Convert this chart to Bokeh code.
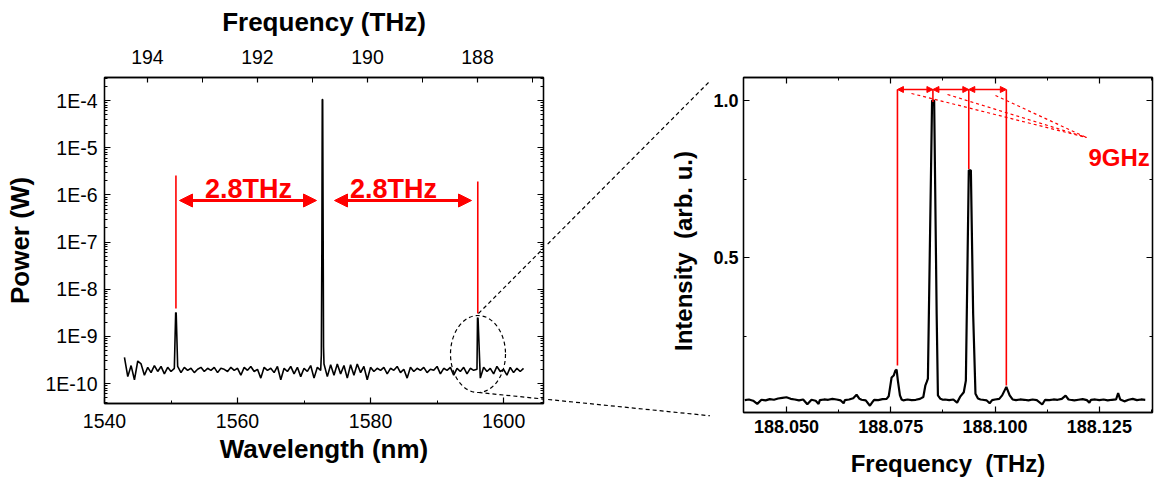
import math
import numpy as np
from bokeh.plotting import figure
from bokeh.models import (Range1d, LinearAxis, LogAxis, FixedTicker, CustomJSTickFormatter,
                          NumeralTickFormatter, Arrow, NormalHead, Label)
from bokeh.layouts import row
from bokeh.embed import file_html
from bokeh.resources import INLINE

FONT = "Liberation Sans"

# ---------------- left panel data: optical spectrum (power vs wavelength) ----------------
noise_start_nm = 1543.0
noise_step_nm = 0.5
noise_floor_1e10 = [
    3.6, 1.4, 2.4, 1.2, 3.0, 2.6, 1.5, 2.2, 1.7, 2.4, 1.8, 2.3, 1.6, 2.2, 1.8, 2.1,
    2.3, 1.7, 2.2, 1.9, 2.1, 1.7, 2.0, 2.2, 1.8, 2.1, 1.9, 2.2, 1.7, 2.1, 2.0, 1.8,
    2.2, 1.9, 2.1, 1.5, 2.2, 1.9, 2.3, 1.8, 2.0, 1.3, 2.2, 1.9, 2.1, 1.7, 2.3, 1.2,
    2.1, 1.8, 2.3, 1.6, 2.2, 1.4, 2.1, 1.8, 2.4, 1.3, 2.2, 1.9, 2.6, 1.4, 2.5, 1.5,
    2.6, 1.6, 2.4, 1.3, 2.5, 1.5, 2.6, 1.7, 2.3, 1.2, 2.2, 1.8, 2.1, 1.9, 2.2, 1.6,
    2.1, 1.9, 2.3, 1.7, 2.0, 1.3, 2.2, 1.8, 2.1, 1.9, 2.2, 1.7, 2.0, 1.9, 2.3, 1.6,
    2.1, 1.9, 2.2, 1.5, 2.1, 1.8, 2.2, 1.6, 2.1, 1.9, 2.0, 1.3, 2.2, 1.8, 2.1, 1.6,
    2.3, 1.8, 2.0, 1.5, 2.2, 1.7, 2.1, 1.8, 2.1,
]
peak_wl_nm = [1550.70, 1550.78,
              1572.60, 1572.68, 1572.74, 1572.80, 1572.86, 1572.93,
              1596.08, 1596.16]
peak_power_w = [3.2e-9, 3.1e-9,
                4.0e-10, 8.0e-8, 1.05e-4, 1.05e-4, 5.0e-7, 6.0e-10,
                2.5e-9, 2.4e-9]

# ---------------- right panel data: zoomed spectrum (intensity vs frequency) ----------------
zoom_freq_thz = [
    188.040, 188.041, 188.042, 188.043, 188.044, 188.045, 188.046, 188.047, 188.048, 188.049,
    188.050, 188.051, 188.052, 188.053, 188.054, 188.055, 188.056, 188.057, 188.0577, 188.058,
    188.059, 188.060, 188.061, 188.062, 188.063, 188.0637, 188.064, 188.065, 188.066, 188.0668,
    188.0675, 188.068, 188.069, 188.070, 188.0705, 188.071, 188.072, 188.073, 188.074, 188.0745,
    188.0752, 188.0757, 188.0761, 188.0764, 188.0767, 188.0772, 188.0776,
    188.078, 188.079, 188.080, 188.081, 188.082, 188.0828,
    188.0833, 188.0836, 188.0839, 188.0849, 188.0854, 188.0860, 188.0863, 188.0869,
    188.0875, 188.088, 188.089, 188.090, 188.0909, 188.0917,
    188.0925, 188.0930, 188.0937, 188.0942, 188.09475, 188.0953, 188.0959,
    188.0965, 188.097, 188.098, 188.0987, 188.0993, 188.100, 188.101,
    188.1017, 188.1027, 188.1035, 188.1042,
    188.105, 188.106, 188.107, 188.108, 188.109, 188.110, 188.1113, 188.112, 188.113, 188.114,
    188.115, 188.116, 188.1169, 188.1176, 188.118, 188.119, 188.120, 188.121, 188.122, 188.1226,
    188.123, 188.124, 188.125, 188.126, 188.127, 188.128, 188.129, 188.1295, 188.130, 188.131,
    188.132, 188.133, 188.134, 188.135, 188.136,
]
zoom_intensity = [
    0.048, 0.050, 0.046, 0.036, 0.049, 0.047, 0.051, 0.049, 0.053, 0.055,
    0.057, 0.052, 0.050, 0.047, 0.050, 0.035, 0.049, 0.046, 0.036, 0.048,
    0.050, 0.049, 0.052, 0.050, 0.047, 0.038, 0.048, 0.050, 0.054, 0.065,
    0.052, 0.049, 0.047, 0.030, 0.040, 0.049, 0.048, 0.051, 0.052, 0.060,
    0.120, 0.126, 0.142, 0.145, 0.110, 0.063, 0.050,
    0.047, 0.050, 0.048, 0.049, 0.052, 0.058,
    0.095, 0.105, 0.116, 1.000, 1.000, 0.320, 0.063, 0.052,
    0.049, 0.050, 0.048, 0.050, 0.040, 0.060,
    0.073, 0.110, 0.778, 0.778, 0.320, 0.068, 0.053,
    0.050, 0.049, 0.047, 0.038, 0.048, 0.050, 0.052,
    0.063, 0.090, 0.063, 0.050,
    0.048, 0.050, 0.049, 0.047, 0.050, 0.048, 0.034, 0.049, 0.048, 0.050,
    0.049, 0.052, 0.062, 0.050, 0.049, 0.047, 0.049, 0.051, 0.048, 0.040,
    0.049, 0.050, 0.048, 0.050, 0.047, 0.049, 0.050, 0.070, 0.050, 0.044,
    0.049, 0.052, 0.048, 0.050, 0.049,
]

# comb lines marked in the zoom (THz) and the 9 GHz marks
comb_freq_thz = [188.0766, 188.0851, 188.0937, 188.1027]
comb_mark_bottom = [0.158, 0.995, 0.782, 0.094]
side_wl_nm = [1550.74, 1596.12]

# ---------------- geometry (page pixels) ----------------
H = 480
L_FRAME = dict(x0=104, x1=543, y0=77, y1=403)
L_X = (1540.0, 1606.0)
L_LOGY = (-10.424, -3.512)
M_X = (546, 710)
M_Y = (77, 425)
R_FRAME = dict(x0=743, x1=1152, y0=77, y1=412)
R_X = (188.0397, 188.0397 + (R_FRAME["x1"] - R_FRAME["x0"]) / 4172.0)
R_Y = (0.0086, 0.0086 + (R_FRAME["y1"] - R_FRAME["y0"]) / 314.7)


def left_data(px, py):
    x = L_X[0] + (px - L_FRAME["x0"]) / (L_FRAME["x1"] - L_FRAME["x0"]) * (L_X[1] - L_X[0])
    ly = L_LOGY[0] + (L_FRAME["y1"] - py) / (L_FRAME["y1"] - L_FRAME["y0"]) * (L_LOGY[1] - L_LOGY[0])
    return x, 10 ** ly


def right_data(px, py):
    x = R_X[0] + (px - R_FRAME["x0"]) / (R_FRAME["x1"] - R_FRAME["x0"]) * (R_X[1] - R_X[0])
    y = R_Y[0] + (R_FRAME["y1"] - py) / (R_FRAME["y1"] - R_FRAME["y0"]) * (R_Y[1] - R_Y[0])
    return x, y


def style_axis(ax, tick_size, title_size, bold_ticks=False, show_labels=True):
    ax.axis_line_color = "black"
    ax.axis_line_width = 1.3
    ax.major_tick_line_color = "black"
    ax.minor_tick_line_color = "black"
    ax.major_tick_line_width = 1.2
    ax.minor_tick_line_width = 1.0
    ax.major_tick_in = 6
    ax.major_tick_out = 0
    ax.minor_tick_in = 3
    ax.minor_tick_out = 0
    ax.major_label_text_font = FONT
    ax.major_label_text_color = "black"
    ax.major_label_text_font_style = "bold" if bold_ticks else "normal"
    ax.major_label_text_font_size = tick_size
    if not show_labels:
        ax.major_label_text_font_size = "2px"
        ax.major_label_text_alpha = 0
        ax.major_label_standoff = 0
    ax.axis_label_text_font = FONT
    ax.axis_label_text_font_style = "bold"
    ax.axis_label_text_font_size = title_size
    ax.axis_label_text_color = "black"


def plain(fig):
    fig.xgrid.visible = False
    fig.ygrid.visible = False
    fig.background_fill_color = "white"
    fig.border_fill_color = "white"


# ======================= left figure =======================
p1 = figure(y_axis_type="log",
            x_range=Range1d(*L_X), y_range=Range1d(10 ** L_LOGY[0], 10 ** L_LOGY[1]),
            frame_width=L_FRAME["x1"] - L_FRAME["x0"], frame_height=L_FRAME["y1"] - L_FRAME["y0"],
            min_border_left=L_FRAME["x0"], min_border_right=M_X[0] - L_FRAME["x1"],
            min_border_top=L_FRAME["y0"], min_border_bottom=H - L_FRAME["y1"],
            output_backend="svg", toolbar_location=None)
plain(p1)
p1.outline_line_color = "black"
p1.outline_line_width = 1.3

xa = p1.xaxis[0]
xa.ticker = FixedTicker(ticks=[1540, 1560, 1580, 1600], minor_ticks=[1550, 1570, 1590])
xa.axis_label = "Wavelength (nm)"
style_axis(xa, "19.5px", "26px")
xa.major_label_standoff = 10
xa.axis_label_standoff = 3

decades = list(range(-10, -3))
log_major = [10.0 ** d for d in decades]
log_minor = [k * 10.0 ** d for d in range(-11, -3) for k in range(2, 10)]
ya = p1.yaxis[0]
ya.ticker = FixedTicker(ticks=log_major, minor_ticks=log_minor)
ya.formatter = CustomJSTickFormatter(code="return '1E' + Math.round(Math.log10(tick));")
ya.axis_label = "Power (W)"
style_axis(ya, "19.5px", "26px")
ya.major_label_standoff = 7
ya.axis_label_standoff = 7

p1.extra_x_ranges = {"freq": Range1d(194.78, 186.80)}
top_ax = LinearAxis(x_range_name="freq",
                    ticker=FixedTicker(ticks=[188, 190, 192, 194], minor_ticks=[187, 189, 191, 193]),
                    axis_label="Frequency (THz)")
style_axis(top_ax, "19.5px", "26px")
top_ax.major_tick_in = 5
top_ax.minor_tick_in = 5
top_ax.major_label_standoff = 14
top_ax.axis_label_standoff = 10
p1.add_layout(top_ax, "above")

right_ax = LogAxis(ticker=FixedTicker(ticks=log_major, minor_ticks=log_minor))
style_axis(right_ax, "19.5px", "26px", show_labels=False)
p1.add_layout(right_ax, "right")

wl = np.concatenate([noise_start_nm + noise_step_nm * np.arange(len(noise_floor_1e10)), peak_wl_nm])
pw = np.concatenate([np.array(noise_floor_1e10) * 1e-10, peak_power_w])
order = np.argsort(wl)
p1.line(wl[order], pw[order], line_color="black", line_width=1.6)

# red markers of the side lines
_, top_a = left_data(0, 175)
_, bot_a = left_data(0, 308)
_, top_b = left_data(0, 181)
_, bot_b = left_data(0, 313)
p1.segment(x0=side_wl_nm, x1=side_wl_nm, y0=[bot_a, bot_b], y1=[top_a, top_b],
           line_color="#ff0000", line_width=1.6)

# 2.8 THz double arrows
ax0, arrow_y = left_data(179, 200)
ax1, _ = left_data(316, 200)
bx0, _ = left_data(334, 200)
bx1, _ = left_data(471, 200)
for xs, xe in [(ax0, ax1), (bx0, bx1)]:
    p1.add_layout(Arrow(x_start=xs, y_start=arrow_y, x_end=xe, y_end=arrow_y,
                        line_color="#ff0000", line_width=3.2,
                        start=NormalHead(size=13, fill_color="#ff0000", line_color="#ff0000"),
                        end=NormalHead(size=13, fill_color="#ff0000", line_color="#ff0000")))
for px in (248, 393):
    lx, ly = left_data(px, 188)
    p1.add_layout(Label(x=lx, y=ly, text="2.8THz", text_align="center", text_baseline="alphabetic",
                        text_font=FONT, text_font_style="bold", text_font_size="27px",
                        text_color="#ff0000"))

# dashed ellipse around the right side line
ex, ey = left_data(477.5, 353.5)
p1.ellipse(x=[ex], y=[ey], width=55, height=77, width_units="screen", height_units="screen",
           fill_alpha=0, line_color="black", line_width=1.2, line_dash="4 3")

# zoom connector lines (page pixel end points)
conn = [((478, 313), (712, 78)), ((478, 392), (717, 416))]
lc = [(left_data(*s), left_data(*t)) for s, t in conn]
p1.segment(x0=[a[0] for a, b in lc], y0=[a[1] for a, b in lc],
           x1=[b[0] for a, b in lc], y1=[b[1] for a, b in lc],
           line_color="black", line_width=1.2, line_dash="4 3")

# ======================= middle strip (connectors + y title of the zoom) =======================
pm = figure(x_range=Range1d(*M_X), y_range=Range1d(M_Y[1], M_Y[0]),
            frame_width=M_X[1] - M_X[0], frame_height=M_Y[1] - M_Y[0],
            min_border_left=0, min_border_right=0,
            min_border_top=M_Y[0], min_border_bottom=0,
            x_axis_location=None, y_axis_location=None,
            output_backend="svg", toolbar_location=None)
plain(pm)
pm.outline_line_color = None
pm.segment(x0=[s[0] for s, t in conn], y0=[s[1] for s, t in conn],
           x1=[t[0] for s, t in conn], y1=[t[1] for s, t in conn],
           line_color="black", line_width=1.2, line_dash="4 3")
pm.add_layout(Label(x=683, y=(R_FRAME["y0"] + R_FRAME["y1"]) / 2 + 6, text="Intensity \u00a0(arb. u.)",
                    angle=math.pi / 2, text_align="center", text_baseline="middle",
                    text_font=FONT, text_font_style="bold", text_font_size="24px",
                    text_color="black"))

# ======================= right figure =======================
p2 = figure(x_range=Range1d(*R_X), y_range=Range1d(*R_Y),
            frame_width=R_FRAME["x1"] - R_FRAME["x0"], frame_height=R_FRAME["y1"] - R_FRAME["y0"],
            min_border_left=R_FRAME["x0"] - M_X[1], min_border_right=2,
            min_border_top=R_FRAME["y0"], min_border_bottom=H - R_FRAME["y1"],
            output_backend="svg", toolbar_location=None)
plain(p2)
p2.outline_line_color = "black"
p2.outline_line_width = 1.3

f_major = [188.050, 188.075, 188.100, 188.125]
f_minor = [188.0375, 188.0625, 188.0875, 188.1125, 188.1375]
bx = p2.xaxis[0]
bx.ticker = FixedTicker(ticks=f_major, minor_ticks=f_minor)
bx.formatter = NumeralTickFormatter(format="0.000")
bx.axis_label = "Frequency \u00a0(THz)"
style_axis(bx, "18px", "24px", bold_ticks=True)
bx.major_label_standoff = 7
bx.axis_label_standoff = 14

ly_ax = p2.yaxis[0]
ly_ax.ticker = FixedTicker(ticks=[0.5, 1.0], minor_ticks=[0.25, 0.75])
ly_ax.formatter = NumeralTickFormatter(format="0.0")
style_axis(ly_ax, "18px", "24px", bold_ticks=True)
ly_ax.major_label_standoff = 5

t2 = LinearAxis(ticker=FixedTicker(ticks=f_major, minor_ticks=f_minor))
style_axis(t2, "18px", "24px", show_labels=False)
p2.add_layout(t2, "above")
r2 = LinearAxis(ticker=FixedTicker(ticks=[0.5, 1.0], minor_ticks=[0.25, 0.75]))
style_axis(r2, "18px", "24px", show_labels=False)
p2.add_layout(r2, "right")

p2.line(zoom_freq_thz, zoom_intensity, line_color="black", line_width=2.2)

# red comb markers
_, mark_top = right_data(0, 89)
p2.segment(x0=comb_freq_thz, x1=comb_freq_thz, y0=comb_mark_bottom,
           y1=[mark_top] * len(comb_freq_thz), line_color="#ff0000", line_width=1.6)
for i in range(len(comb_freq_thz) - 1):
    p2.add_layout(Arrow(x_start=comb_freq_thz[i], y_start=mark_top,
                        x_end=comb_freq_thz[i + 1], y_end=mark_top,
                        line_color="#ff0000", line_width=1.5,
                        start=NormalHead(size=6, fill_color="#ff0000", line_color="#ff0000"),
                        end=NormalHead(size=6, fill_color="#ff0000", line_color="#ff0000")))
gx, gy = right_data(1086, 137)
starts = [right_data(911, 93), right_data(947, 94), right_data(995, 95)]
p2.segment(x0=[s[0] for s in starts], y0=[s[1] for s in starts],
           x1=[gx] * 3, y1=[gy] * 3, line_color="#ff0000", line_width=1.2, line_dash="3 3")
tx, ty = right_data(1088, 157)
p2.add_layout(Label(x=tx, y=ty, text="9GHz", text_align="left", text_baseline="alphabetic",
                    text_font=FONT, text_font_style="bold", text_font_size="24px",
                    text_color="#ff0000"))

layout = row(p1, pm, p2)
open("out.html", "w").write(file_html(layout, INLINE))
